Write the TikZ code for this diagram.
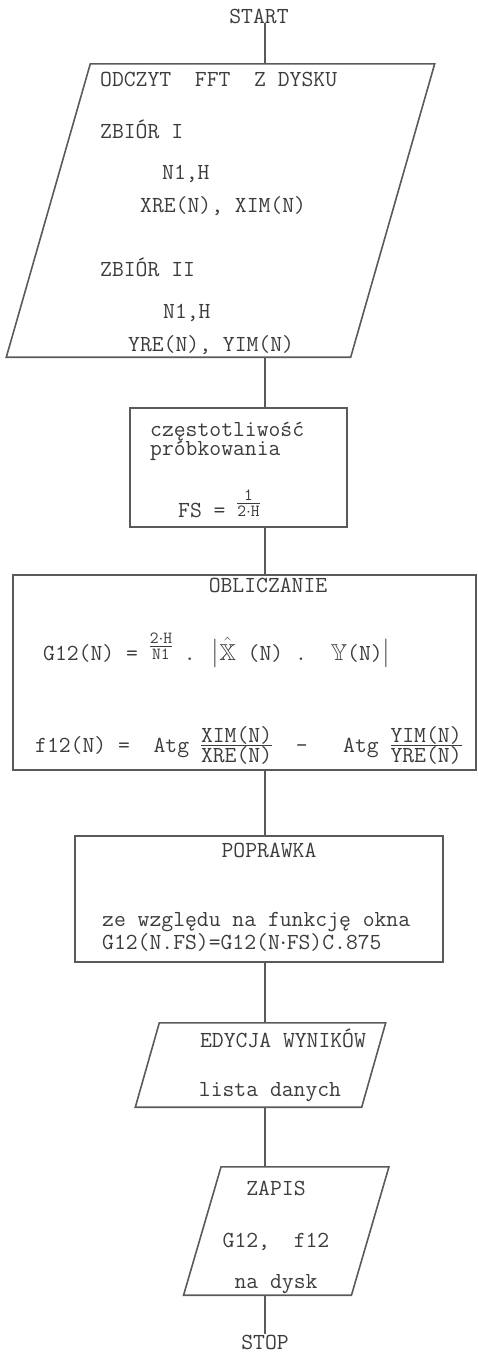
\documentclass[tikz,border=0pt]{standalone}
\usepackage{amsmath,amssymb}
\usepackage{xcolor}
\usepackage{tikz}
\definecolor{scanink}{HTML}{3C3C3C}
\definecolor{scanline}{HTML}{5A5A5A}

\newcommand{\ulamek}[2]{\ensuremath{\vcenter{\offinterlineskip
  \halign{\hfil##\hfil\cr
    \vrule height 0.62em depth 0.05em width 0pt\smash{#1}\cr
    \noalign{\kern1.5pt\hrule height 1.2pt\kern1.5pt}
    \vrule height 0.62em depth 0.05em width 0pt\smash{#2}\cr}}}}
\newcommand{\maly}[2]{{\fontsize{17}{17}\selectfont\raisebox{9pt}{\ulamek{#1}{#2}}}}
\newcommand{\skos}[2]{\draw[ramka] ([xshift=#2]#1.north west) -- ([xshift=#2]#1.north east)
  -- ([xshift=-#2]#1.south east) -- ([xshift=-#2]#1.south west) -- cycle;}

\begin{document}
\begin{tikzpicture}[x=1pt,y=-1pt,
    font=\ttfamily\fontsize{23}{27}\selectfont, text=scanink,
    every node/.style={inner sep=0pt},
    ramka/.style={draw=scanline, line width=1.6pt},
    lewy/.style={anchor=base west},
    srodek/.style={anchor=base},
    lacznik/.style={draw=scanline, line width=1.6pt}]
  \useasboundingbox (0,0) rectangle (477,1352);
  \coordinate (pion) at (265,0);

  \node[srodek] (start) at (259,23) {START};
  \node[minimum width=344, minimum height=293] (odczyt) at (220.5,210.5) {};
  \node[ramka, minimum width=217, minimum height=119] (czest) at (238.5,467.5) {};
  \node[ramka, minimum width=463, minimum height=195] (oblicz) at (244.5,672.5) {};
  \node[ramka, minimum width=368, minimum height=126] (popr) at (259,899) {};
  \node[minimum width=226, minimum height=84] (edycja) at (260.5,1065) {};
  \node[minimum width=167.5, minimum height=128] (zapis) at (286.25,1231) {};
  \node[srodek] (stop) at (265,1349) {STOP};
  \skos{odczyt}{42}
  \skos{edycja}{12}
  \skos{zapis}{18.75}

  \foreach \a/\b in {start/odczyt,odczyt/czest,czest/oblicz,oblicz/popr,popr/edycja,edycja/zapis,zapis/stop}
    \draw[lacznik] (pion |- \a.south) -- (pion |- \b.north);

  \node[lewy] (odczyt1) at (100,86) {ODCZYT\ \ FFT\ \ Z DYSKU};
  \node[lewy] (odczyt2) at (100,138) {ZBIÓR I};
  \node[lewy] (odczyt3) at (162,179) {N1,H};
  \node[lewy] (odczyt4) at (140,212) {XRE(N), XIM(N)};
  \node[lewy] (odczyt5) at (100,276) {ZBIÓR II};
  \node[lewy] (odczyt6) at (163,318) {N1,H};
  \node[lewy] (odczyt7) at (128,351) {YRE(N), YIM(N)};

  \node[lewy] (czest1) at (150,436) {częstotliwość};
  \node[lewy] (czest2) at (150,455) {próbkowania};
  \node[lewy] (czest3) at (178,517) {FS = \maly{1}{2$\cdot$H}};

  \node[srodek] (oblicz1) at (268,592) {OBLICZANIE};
  \node[lewy] (oblicz2) at (43,660) {G12(N) = \maly{2$\cdot$H}{N1} . $\big|\hat{\mathbb{X}}$ (N)\ .\ \ $\mathbb{Y}$(N)$\big|$};
  \node[lewy] (oblicz3) at (35,752) {f12(N) = \ Atg \ulamek{XIM(N)}{XRE(N)}\ \ -\ \ \ Atg \ulamek{YIM(N)}{YRE(N)}};

  \node[srodek] (popr1) at (269,857) {POPRAWKA};
  \node[lewy] (popr2) at (102,926) {ze względu na funkcję okna};
  \node[lewy] (popr3) at (102,949) {G12(N.FS)=G12(N$\cdot$FS)C.875};

  \node[srodek] (edycja1) at (283,1047) {EDYCJA WYNIKÓW};
  \node[srodek] (edycja2) at (270,1096) {lista danych};

  \node[srodek] (zapis1) at (276,1195) {ZAPIS};
  \node[srodek] (zapis2) at (276,1247) {G12,\ \ f12};
  \node[srodek] (zapis3) at (276,1288) {na dysk};
\end{tikzpicture}
\end{document}
